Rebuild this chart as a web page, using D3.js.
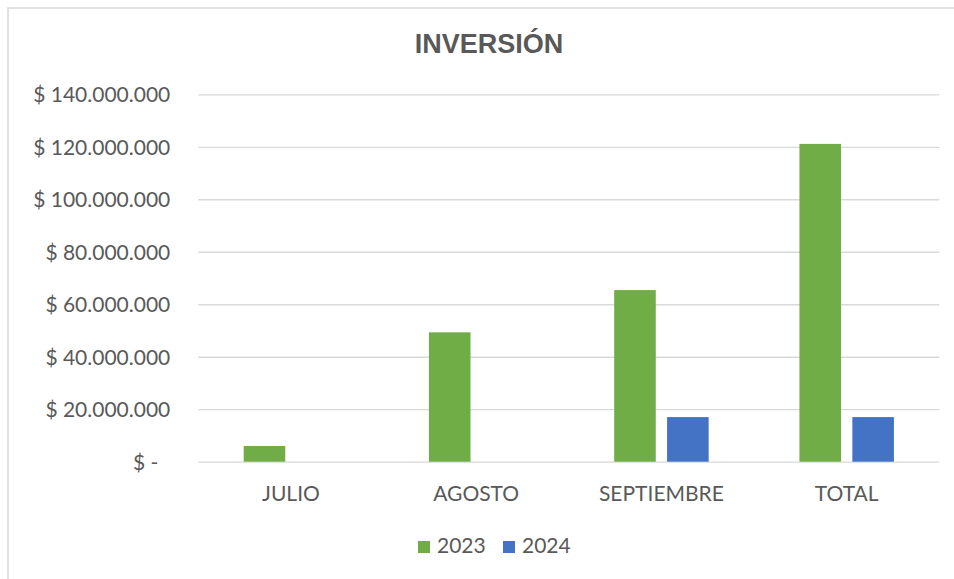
<!DOCTYPE html>
<html>
<head>
<meta charset="utf-8">
<script src="https://cdn.jsdelivr.net/npm/d3@7"></script>
<style>
  body { margin: 0; background: #fff; }
  text { font-family: Lato, 'Liberation Sans', sans-serif; fill: #595959; }
</style>
</head>
<body>
<div id="chart"></div>
<script>
let categories = ['JULIO', 'AGOSTO', 'SEPTIEMBRE', 'TOTAL']
let series = ['2023', '2024']
let values2023 = [6000000, 49300000, 65400000, 121100000]
let values2024 = [0, 0, 17000000, 17000000]
let yTicks = [0, 20000000, 40000000, 60000000, 80000000, 100000000, 120000000, 140000000]
let colors = ['#70ad47', '#4472c4']

let width = 954
let height = 579
let margin = { top: 94.3, left: 198.3, right: 14.7, bottom: 117.3 }

let svg = d3
  .select('#chart')
  .append('svg')
  .attr('width', width)
  .attr('height', height)

// chart frame (only left/top edges show in the picture)
svg
  .append('rect')
  .attr('x', 8)
  .attr('y', 8)
  .attr('width', width + 20)
  .attr('height', height + 20)
  .attr('fill', 'none')
  .attr('stroke', '#d9d9d9')
  .attr('stroke-width', 1.5)

let xPositionScale = d3
  .scaleBand()
  .domain(categories)
  .range([margin.left, width - margin.right])
  .paddingInner(0.49)
  .paddingOuter(0.245)

let xSeriesScale = d3
  .scaleBand()
  .domain(series)
  .range([0, xPositionScale.bandwidth()])
  .paddingInner(0.214)

let yPositionScale = d3
  .scaleLinear()
  .domain([0, 140000000])
  .range([height - margin.bottom, margin.top])

let dots = d3.formatLocale({ decimal: ',', thousands: '.', grouping: [3], currency: ['$', ''] })
let moneyFormat = d => (d === 0 ? '$ -' : '$ ' + dots.format(',.0f')(d))

// gridlines
let yGrid = d3
  .axisLeft(yPositionScale)
  .tickValues(yTicks)
  .tickSize(-(width - margin.left - margin.right))
  .tickFormat('')
svg
  .append('g')
  .attr('class', 'grid')
  .attr('transform', 'translate(' + margin.left + ',0)')
  .call(yGrid)
  .call(g => g.select('.domain').remove())
  .call(g => g.selectAll('line').attr('stroke', '#d9d9d9').attr('stroke-width', 1.3))

// y labels
let yAxis = d3
  .axisLeft(yPositionScale)
  .tickValues(yTicks)
  .tickSize(0)
  .tickPadding(28)
  .tickFormat(moneyFormat)
svg
  .append('g')
  .attr('class', 'axis y-axis')
  .attr('transform', 'translate(' + margin.left + ',0)')
  .call(yAxis)
  .call(g => g.select('.domain').remove())
  .call(g =>
    g
      .selectAll('text')
      .attr('font-size', 21)
      .attr('fill', '#595959')
      .attr('dy', '0.36em')
  )
  .call(g => g.selectAll('.tick').filter(d => d === 0).select('text').attr('dx', -12))

// bars
let rows = categories.map((c, i) => ({ category: c, values: [values2023[i], values2024[i]] }))

let groups = svg
  .selectAll('.group')
  .data(rows)
  .enter()
  .append('g')
  .attr('class', 'group')
  .attr('transform', d => 'translate(' + xPositionScale(d.category) + ',0)')

groups
  .selectAll('rect')
  .data(d => d.values.map((v, i) => ({ key: series[i], value: v })))
  .enter()
  .append('rect')
  .attr('x', d => xSeriesScale(d.key))
  .attr('width', xSeriesScale.bandwidth())
  .attr('y', d => yPositionScale(d.value))
  .attr('height', d => yPositionScale(0) - yPositionScale(d.value))
  .attr('fill', (d, i) => colors[i])

// x labels
let xAxis = d3.axisBottom(xPositionScale).tickSize(0).tickPadding(24)
svg
  .append('g')
  .attr('class', 'axis x-axis')
  .attr('transform', 'translate(0,' + yPositionScale(0) + ')')
  .call(xAxis)
  .call(g => g.select('.domain').remove())
  .call(g => g.selectAll('text').attr('font-size', 21).attr('fill', '#595959'))

// title
svg
  .append('text')
  .attr('x', 489)
  .attr('y', 53)
  .attr('text-anchor', 'middle')
  .attr('font-size', 27)
  .attr('font-weight', 'bold')
  .style('font-family', "'Liberation Sans', Arial, sans-serif")
  .text('INVERSIÓN')

// legend
let legend = svg
  .selectAll('.legend')
  .data(series)
  .enter()
  .append('g')
  .attr('class', 'legend')
  .attr('transform', (d, i) => 'translate(' + (418 + i * 85) + ',541)')

legend
  .append('rect')
  .attr('width', 12)
  .attr('height', 12)
  .attr('fill', (d, i) => colors[i])

legend
  .append('text')
  .attr('x', 19)
  .attr('y', 12)
  .attr('font-size', 21)
  .text(d => d)
</script>
</body>
</html>
